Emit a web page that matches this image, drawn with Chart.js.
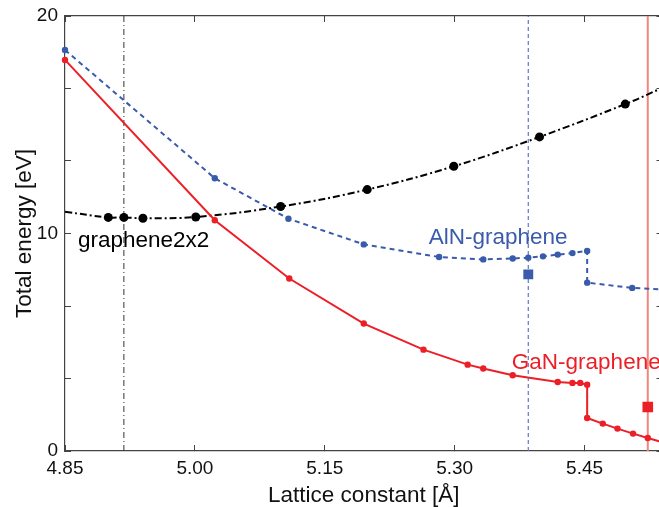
<!DOCTYPE html>
<html>
<head>
<meta charset="utf-8">
<script src="https://cdn.jsdelivr.net/npm/chart.js@4/dist/chart.umd.min.js"></script>
<style>
    html, body { margin: 0; padding: 0; background: #fff; overflow: hidden; }
    #wrap { width: 670px; height: 507px; }
</style>
</head>
<body>
<div id="wrap"><canvas id="energyChart" width="670" height="507"></canvas></div>
<script>
// Dati
const grapheneX = [4.85, 4.900, 4.918, 4.940, 5.001, 5.099, 5.199, 5.299, 5.398, 5.497, 5.54];
const grapheneY = [11.0, 10.74, 10.74, 10.70, 10.76, 11.24, 12.02, 13.09, 14.44, 15.95, 16.7];
const grapheneMarked = [false, true, true, true, true, true, true, true, true, true, false];

const alnX = [4.85, 5.023, 5.108, 5.195, 5.282, 5.333, 5.367, 5.385, 5.402, 5.419, 5.436, 5.453, 5.453, 5.505, 5.54];
const alnY = [18.44, 12.54, 10.68, 9.50, 8.92, 8.81, 8.85, 8.89, 8.95, 9.03, 9.10, 9.20, 7.74, 7.50, 7.43];

const ganX = [4.85, 5.023, 5.109, 5.195, 5.264, 5.315, 5.333, 5.367, 5.419, 5.436, 5.445, 5.453, 5.453, 5.471, 5.488, 5.506, 5.523, 5.54];
const ganY = [17.98, 10.61, 7.93, 5.86, 4.66, 3.97, 3.79, 3.48, 3.17, 3.13, 3.13, 3.05, 1.52, 1.26, 1.03, 0.80, 0.60, 0.40];

// Punti quadrati (valori sperimentali)
const alnSquare = [5.385, 8.12];
const ganSquare = [5.523, 2.02];

// Linee verticali
const grapheneVLine = 4.918;
const alnVLine = 5.385;
const ganVLine = 5.523;

const xTickValues = [4.85, 5.00, 5.15, 5.30, 5.45];
const yTickValues = [0, 10 / 3, 20 / 3, 10, 40 / 3, 50 / 3, 20];
const yTickLabels = ['0', '', '', '10', '', '', '20'];

const BLUE = '#3a5bab';
const RED = '#ec1f27';
const FONT = '"Liberation Sans", Arial, sans-serif';

function toPoints(xs, ys) {
    return xs.map((x, i) => ({ x: x, y: ys[i] }));
}

function vLine(x) {
    return [{ x: x, y: 0 }, { x: x, y: 20 }];
}

// Etichette delle serie disegnate sul grafico
const seriesLabels = {
    id: 'seriesLabels',
    afterDatasetsDraw(chart) {
        const { ctx, scales } = chart;
        const items = [
            { text: 'graphene2x2', x: 4.865, y: 9.38, color: '#000' },
            { text: 'AlN-graphene', x: 5.270, y: 9.52, color: BLUE },
            { text: 'GaN-graphene', x: 5.366, y: 3.77, color: RED }
        ];
        ctx.save();
        ctx.font = '22.5px ' + FONT;
        ctx.textBaseline = 'alphabetic';
        ctx.textAlign = 'left';
        items.forEach(item => {
            ctx.fillStyle = item.color;
            ctx.fillText(item.text, scales.x.getPixelForValue(item.x), scales.y.getPixelForValue(item.y));
        });
        ctx.restore();
    }
};

const gridInward = {
    drawOnChartArea: false,
    drawTicks: true,
    tickLength: -6,
    color: '#444',
    lineWidth: 1
};
const borderStyle = { display: true, color: '#444', width: 1.2 };

function setXTicks(scale) {
    scale.ticks = xTickValues.map(v => ({ value: v }));
}
function setYTicks(scale) {
    scale.ticks = yTickValues.map(v => ({ value: v }));
}

// Dimensioni fisse degli assi, senza padding extra per le etichette
function fixSize(prop, size) {
    return scale => {
        scale[prop] = size;
        scale.paddingTop = 0;
        scale.paddingBottom = 0;
        scale.paddingLeft = 0;
        scale.paddingRight = 0;
    };
}

new Chart(document.getElementById('energyChart').getContext('2d'), {
    type: 'line',
    data: {
        datasets: [
            {
                label: 'graphene2x2',
                data: toPoints(grapheneX, grapheneY),
                borderColor: '#000',
                backgroundColor: '#000',
                borderWidth: 2,
                borderDash: [7, 3, 2, 3],
                tension: 0.4,
                pointRadius: grapheneMarked.map(m => (m ? 4.5 : 0)),
                pointBorderWidth: 0,
                clip: false,
                order: 3
            },
            {
                label: 'AlN-graphene',
                data: toPoints(alnX, alnY),
                borderColor: BLUE,
                backgroundColor: BLUE,
                borderWidth: 2,
                borderDash: [5, 4],
                tension: 0,
                pointRadius: alnX.map((x, i) => (i === alnX.length - 1 ? 0 : 3.2)),
                pointBorderWidth: 0,
                clip: false,
                order: 2
            },
            {
                label: 'GaN-graphene',
                data: toPoints(ganX, ganY),
                borderColor: RED,
                backgroundColor: RED,
                borderWidth: 2,
                tension: 0,
                pointRadius: ganX.map((x, i) => (i === ganX.length - 1 ? 0 : 3.2)),
                pointBorderWidth: 0,
                clip: false,
                order: 1
            },
            {
                label: 'AlN exp',
                data: [{ x: alnSquare[0], y: alnSquare[1] }],
                showLine: false,
                pointStyle: 'rect',
                pointRadius: 7,
                pointBorderWidth: 0,
                backgroundColor: BLUE,
                borderColor: BLUE,
                order: 0
            },
            {
                label: 'GaN exp',
                data: [{ x: ganSquare[0], y: ganSquare[1] }],
                showLine: false,
                pointStyle: 'rect',
                pointRadius: 7.5,
                pointBorderWidth: 0,
                backgroundColor: RED,
                borderColor: RED,
                order: 0
            },
            {
                label: 'graphene a',
                data: vLine(grapheneVLine),
                borderColor: '#333',
                borderWidth: 1,
                borderDash: [6, 3, 1, 3],
                pointRadius: 0,
                order: 10
            },
            {
                label: 'AlN a',
                data: vLine(alnVLine),
                borderColor: '#5a78c8',
                borderWidth: 1.2,
                borderDash: [4, 3],
                pointRadius: 0,
                order: 10
            },
            {
                label: 'GaN a',
                data: vLine(ganVLine),
                borderColor: '#f2857c',
                borderWidth: 2,
                pointRadius: 0,
                order: 10
            }
        ]
    },
    options: {
        responsive: false,
        animation: false,
        layout: { padding: 0 },
        plugins: {
            legend: { display: false },
            tooltip: { enabled: false }
        },
        scales: {
            x: {
                type: 'linear',
                position: 'bottom',
                min: 4.85,
                max: 5.54,
                afterBuildTicks: setXTicks,
                afterFit: fixSize('height', 56),
                grid: gridInward,
                border: borderStyle,
                ticks: {
                    padding: 12,
                    color: '#111',
                    font: { family: FONT, size: 19 },
                    maxRotation: 0,
                    callback: value => Number(value).toFixed(2)
                },
                title: {
                    display: true,
                    text: 'Lattice constant [Å]',
                    color: '#111',
                    font: { family: FONT, size: 22.5, lineHeight: 1 },
                    padding: { top: 0, bottom: 0 }
                }
            },
            x2: {
                type: 'linear',
                position: 'top',
                min: 4.85,
                max: 5.54,
                afterBuildTicks: setXTicks,
                afterFit: fixSize('height', 16),
                grid: gridInward,
                border: borderStyle,
                ticks: { display: false }
            },
            y: {
                type: 'linear',
                position: 'left',
                min: 0,
                max: 20,
                afterBuildTicks: setYTicks,
                afterFit: fixSize('width', 65),
                grid: gridInward,
                border: borderStyle,
                ticks: {
                    padding: 13,
                    color: '#111',
                    font: { family: FONT, size: 19 },
                    callback: (value, index) => yTickLabels[index]
                },
                title: {
                    display: true,
                    text: 'Total energy [eV]',
                    color: '#111',
                    font: { family: FONT, size: 22.5, lineHeight: 1 },
                    padding: { top: 14, bottom: 0 }
                }
            },
            y2: {
                type: 'linear',
                position: 'right',
                min: 0,
                max: 20,
                afterBuildTicks: setYTicks,
                afterFit: fixSize('width', 7),
                grid: gridInward,
                border: borderStyle,
                ticks: { display: false }
            }
        }
    },
    plugins: [seriesLabels]
});
</script>
</body>
</html>
